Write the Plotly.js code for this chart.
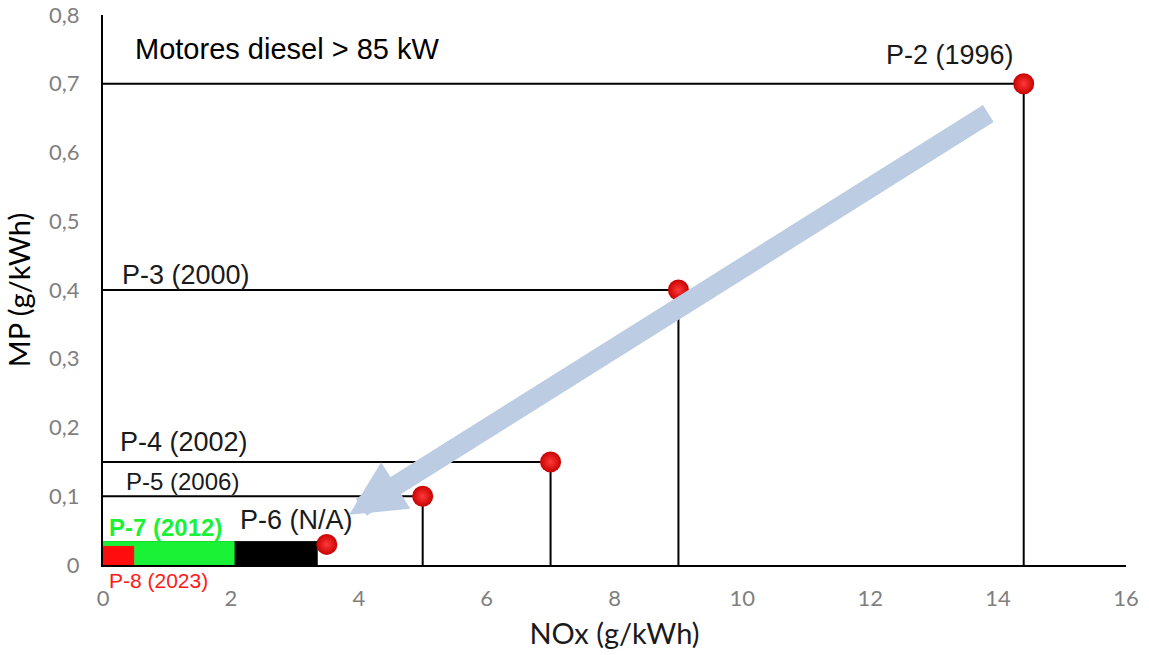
<!DOCTYPE html>
<html><head><meta charset="utf-8">
<script src="https://cdn.plot.ly/plotly-3.0.1.min.js"></script>
<style>html,body{margin:0;padding:0;background:#fff}#c{width:1149px;height:655px}</style>
</head><body><div id="c"></div>
<script>
// Emission limit points (NOx, MP)
const stages = ["P-2 (1996)","P-3 (2000)","P-4 (2002)","P-5 (2006)","P-6 (N/A)"];
const noxVals = [14.4, 9, 7, 5, 3.5];
const mpVals = [0.7, 0.4, 0.15, 0.1, 0.03];
const withGuides = [true, true, true, true, false];

// Limit boxes drawn from the origin
const boxNames = ["P-6 (N/A)","P-7 (2012)","P-8 (2023)"];
const boxNox = [3.35, 2.05, 0.48];
const boxMp = [0.034, 0.034, 0.027];
const boxColors = ["#000000","#19f235","#ff0d0d"];

// Label anchors (data coords)
const labelX = [13.25, 0.27, 0.23, 0.33, 2.11];
const labelY = [0.742, 0.422, 0.179, 0.122, 0.0655];

const xTicks = [0,2,4,6,8,10,12,14,16];
const yTicks = [0,0.1,0.2,0.3,0.4,0.5,0.6,0.7,0.8];
const yTickText = ["0","0,1","0,2","0,3","0,4","0,5","0,6","0,7","0,8"];

// Trend arrow (tail -> head)
const arrowTail = [13.87, 0.658];
const arrowHead = [3.85, 0.073];

const traces = [];
for (let i = 0; i < boxNames.length; i++) {
  const w = boxNox[i], h = boxMp[i];
  traces.push({x:[0,w,w,0,0], y:[0,0,h,h,0], type:'scatter', mode:'lines', fill:'toself',
    fillcolor: boxColors[i], line:{color: boxColors[i], width:1}, hoverinfo:'skip', showlegend:false});
}
for (let i = 0; i < stages.length; i++) {
  if (!withGuides[i]) continue;
  traces.push({x:[0, noxVals[i], noxVals[i]], y:[mpVals[i], mpVals[i], 0], type:'scatter', mode:'lines',
    line:{color:'#000', width:2}, hoverinfo:'skip', showlegend:false, cliponaxis:false});
}
traces.push({x: noxVals, y: mpVals, text: stages, type:'scatter', mode:'markers',
  marker:{size:21, color:'#c80000', gradient:{type:'radial', color:'#ff3a3a'}, line:{width:0}},
  showlegend:false, cliponaxis:false});

const F = 'Liberation Sans, Arial, sans-serif';
const annots = [];
const labelSizes = [27,27,27,24,27];
for (let i = 0; i < stages.length; i++) {
  annots.push({x: labelX[i], y: labelY[i], xref:'x', yref:'y', text: stages[i], showarrow:false,
    xanchor: i===0 ? 'center' : 'left', yanchor:'middle', font:{size: labelSizes[i], color:'#1a1a1a', family:F}});
}
annots.push({x:0.06, y:0.054, xref:'x', yref:'y', text:'<b>P-7 (2012)</b>', showarrow:false, xanchor:'left', yanchor:'middle',
  font:{size:24, color:'#19f235', family:F}});
annots.push({x:0.06, y:0, yshift:-15, xref:'x', yref:'y', text:'P-8 (2023)', showarrow:false, xanchor:'left', yanchor:'middle',
  font:{size:21, color:'#ff1a1a', family:F}});
annots.push({x:0.47, y:0.75, xref:'x', yref:'y', text:'Motores diesel &gt; 85 kW', showarrow:false, xanchor:'left', yanchor:'middle',
  font:{size:29, color:'#000', family:F}});
annots.push({x: arrowHead[0], y: arrowHead[1], ax: arrowTail[0], ay: arrowTail[1], xref:'x', yref:'y', axref:'x', ayref:'y',
  text:'', showarrow:true, arrowhead:2, arrowsize:0.55, arrowwidth:20, arrowcolor:'#bccde3', standoff:0});

const TF = 'Lato, Open Sans, sans-serif';
const layout = {
  width:1149, height:655,
  margin:{l:103, r:23, t:15, b:90},
  paper_bgcolor:'#fff', plot_bgcolor:'#fff',
  separators:',.',
  showlegend:false,
  xaxis:{range:[0,16], tickvals:xTicks, ticktext:xTicks.map(String), showgrid:false, zeroline:false,
    showline:true, linecolor:'#000', linewidth:2, ticks:'outside', ticklen:13, tickcolor:'rgba(0,0,0,0)',
    tickfont:{size:22, color:'#7f7f7f', family:TF},
    title:{text:'NOx (g/kWh)', font:{size:29, color:'#1a1a1a', family:TF}, standoff:13}},
  yaxis:{range:[0,0.8], tickvals:yTicks, ticktext:yTickText, showgrid:false, zeroline:false,
    showline:true, linecolor:'#000', linewidth:2, ticks:'outside', ticklen:17, tickcolor:'rgba(0,0,0,0)',
    tickfont:{size:22, color:'#7f7f7f', family:TF},
    title:{text:'MP (g/kWh)', font:{size:29, color:'#000', family:TF}, standoff:10}},
  annotations: annots
};
Plotly.newPlot('c', traces, layout, {staticPlot:true});
</script></body></html>
